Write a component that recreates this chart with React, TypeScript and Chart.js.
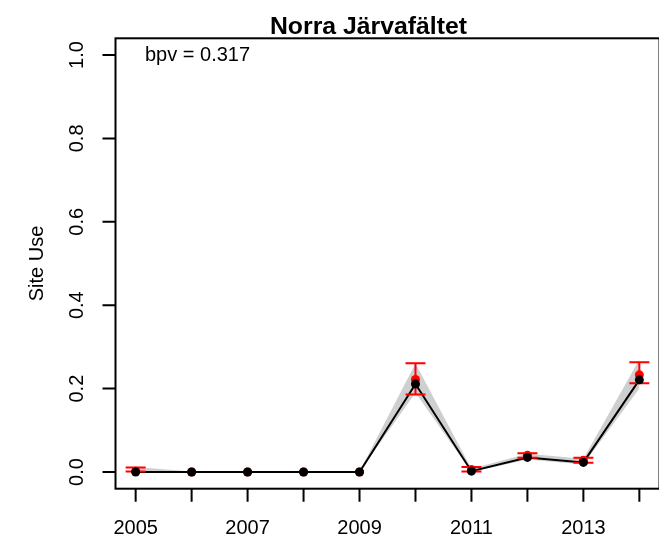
import React, { useEffect, useRef } from "react";
import { Chart, registerables } from "chart.js";

Chart.register(...registerables);

const years = [2005, 2006, 2007, 2008, 2009, 2010, 2011, 2012, 2013, 2014];
const fittedSiteUse = [0.0, 0.0, 0.0, 0.0, 0.0, 0.211, 0.002, 0.035, 0.023, 0.221];
const bandLower = [0.0, 0.0, 0.0, 0.0, 0.0, 0.19, 0.0, 0.03, 0.018, 0.2];
const bandUpper = [0.012, 0.001, 0.001, 0.001, 0.001, 0.26, 0.008, 0.044, 0.032, 0.27];
const observedMean = [0.002, 0.0, 0.0, 0.0, 0.0, 0.222, 0.006, 0.04, 0.028, 0.233];
const observedLow = [0.001, 0.0, 0.0, 0.0, 0.0, 0.186, 0.001, 0.034, 0.022, 0.213];
const observedHigh = [0.011, 0.0, 0.0, 0.0, 0.0, 0.261, 0.012, 0.045, 0.034, 0.263];
const xTickLabels = ["2005", "2007", "2009", "2011", "2013"];
const yTicks = [0.0, 0.2, 0.4, 0.6, 0.8, 1.0];
const yTickLabels = ["0.0", "0.2", "0.4", "0.6", "0.8", "1.0"];
const titleText = "Norra Järvafältet";
const bpvText = "bpv = 0.317";
const yAxisTitle = "Site Use";

const FONT = '"Liberation Sans", Arial, Helvetica, sans-serif';
const CANVAS_W = 664;
const CANVAS_H = 536;

const errorBarPlugin = {
  id: "errorBars",
  afterDatasetDraw(chart: any, args: any) {
    const ds = chart.data.datasets[args.index];
    if (!ds || ds.label !== "fitted") return;
    const ctx = chart.ctx;
    const xs = chart.scales.x;
    const ys = chart.scales.y;
    ctx.save();
    ctx.strokeStyle = "#FF0000";
    ctx.lineWidth = 2;
    ctx.lineCap = "butt";
    years.forEach((yr, i) => {
      const lo = observedLow[i];
      const hi = observedHigh[i];
      if (!(hi > lo)) return;
      const px = xs.getPixelForValue(yr);
      const pLo = ys.getPixelForValue(lo);
      const pHi = ys.getPixelForValue(hi);
      ctx.beginPath();
      ctx.moveTo(px, pLo);
      ctx.lineTo(px, pHi);
      ctx.moveTo(px - 10, pLo);
      ctx.lineTo(px + 10, pLo);
      ctx.moveTo(px - 10, pHi);
      ctx.lineTo(px + 10, pHi);
      ctx.stroke();
    });
    ctx.restore();
  },
};

const axesPlugin = {
  id: "rAxes",
  afterDraw(chart: any) {
    const ctx = chart.ctx;
    const xs = chart.scales.x;
    const ys = chart.scales.y;
    const a = chart.chartArea;
    ctx.save();
    ctx.strokeStyle = "#000000";
    ctx.lineWidth = 2;
    ctx.strokeRect(a.left, a.top, a.right - a.left, a.bottom - a.top);

    ctx.beginPath();
    years.forEach((yr) => {
      const px = xs.getPixelForValue(yr);
      ctx.moveTo(px, a.bottom);
      ctx.lineTo(px, a.bottom + 13);
    });
    yTicks.forEach((v) => {
      const py = ys.getPixelForValue(v);
      ctx.moveTo(a.left, py);
      ctx.lineTo(a.left - 13, py);
    });
    ctx.stroke();

    ctx.fillStyle = "#000000";
    ctx.font = `20px ${FONT}`;
    ctx.textAlign = "center";
    ctx.textBaseline = "alphabetic";
    xTickLabels.forEach((lab) => {
      const px = xs.getPixelForValue(Number(lab));
      ctx.fillText(lab, px, 534);
    });
    yTickLabels.forEach((lab, i) => {
      const py = ys.getPixelForValue(yTicks[i]);
      ctx.save();
      ctx.translate(83, py);
      ctx.rotate(-Math.PI / 2);
      ctx.fillText(lab, 0, 0);
      ctx.restore();
    });

    ctx.save();
    ctx.translate(42.7, (a.top + a.bottom) / 2);
    ctx.rotate(-Math.PI / 2);
    ctx.fillText(yAxisTitle, 0, 0);
    ctx.restore();

    ctx.textAlign = "left";
    ctx.fillText(bpvText, 145, 61);

    ctx.font = `bold 24.8px ${FONT}`;
    ctx.textAlign = "center";
    ctx.fillText(titleText, 368.5, 34);
    ctx.restore();
  },
};

export default function App() {
  const canvasRef = useRef<HTMLCanvasElement | null>(null);

  useEffect(() => {
    const canvas = canvasRef.current;
    if (!canvas) return;
    const pts = (arr: number[]) => years.map((yr, i) => ({ x: yr, y: arr[i] }));
    const chart = new Chart(canvas, {
      type: "line",
      data: {
        datasets: [
          {
            label: "fittedPoints",
            data: pts(fittedSiteUse),
            showLine: false,
            pointRadius: 4.5,
            pointBackgroundColor: "#000000",
            pointBorderColor: "#000000",
            pointBorderWidth: 0,
            order: 0,
          } as any,
          {
            label: "observedPoints",
            data: pts(observedMean),
            showLine: false,
            pointRadius: 4.5,
            pointBackgroundColor: "#FF0000",
            pointBorderColor: "#FF0000",
            pointBorderWidth: 0,
            order: 1,
          },
          {
            label: "fitted",
            data: pts(fittedSiteUse),
            borderColor: "#000000",
            borderWidth: 2,
            pointRadius: 0,
            tension: 0,
            fill: false,
            order: 2,
          },
          {
            label: "bandUpper",
            data: pts(bandUpper),
            borderWidth: 0,
            borderColor: "rgba(0,0,0,0)",
            backgroundColor: "#CFCFCF",
            pointRadius: 0,
            tension: 0,
            fill: "+1",
            order: 3,
          },
          {
            label: "bandLower",
            data: pts(bandLower),
            borderWidth: 0,
            borderColor: "rgba(0,0,0,0)",
            pointRadius: 0,
            tension: 0,
            fill: false,
            order: 4,
          },
        ],
      },
      options: {
        responsive: false,
        animation: false,
        events: [],
        layout: {
          padding: { left: 115.5, top: 38.3, right: CANVAS_W - 660.7, bottom: CANVAS_H - 488.7 },
        },
        plugins: {
          legend: { display: false },
          tooltip: { enabled: false },
          title: { display: false },
        },
        scales: {
          x: { type: "linear", min: 2004.64, max: 2014.36, display: false },
          y: { type: "linear", min: -0.04, max: 1.04, display: false },
        },
      },
      plugins: [errorBarPlugin, axesPlugin],
    });
    return () => chart.destroy();
  }, []);

  return (
    <div
      style={{
        position: "absolute",
        left: 0,
        top: 0,
        width: 659,
        height: 536,
        overflow: "hidden",
        background: "#FFFFFF",
      }}
    >
      <div style={{ position: "relative", width: CANVAS_W, height: CANVAS_H }}>
        <canvas
          ref={canvasRef}
          width={CANVAS_W}
          height={CANVAS_H}
          style={{ display: "block", width: CANVAS_W, height: CANVAS_H }}
        />
      </div>
    </div>
  );
}
